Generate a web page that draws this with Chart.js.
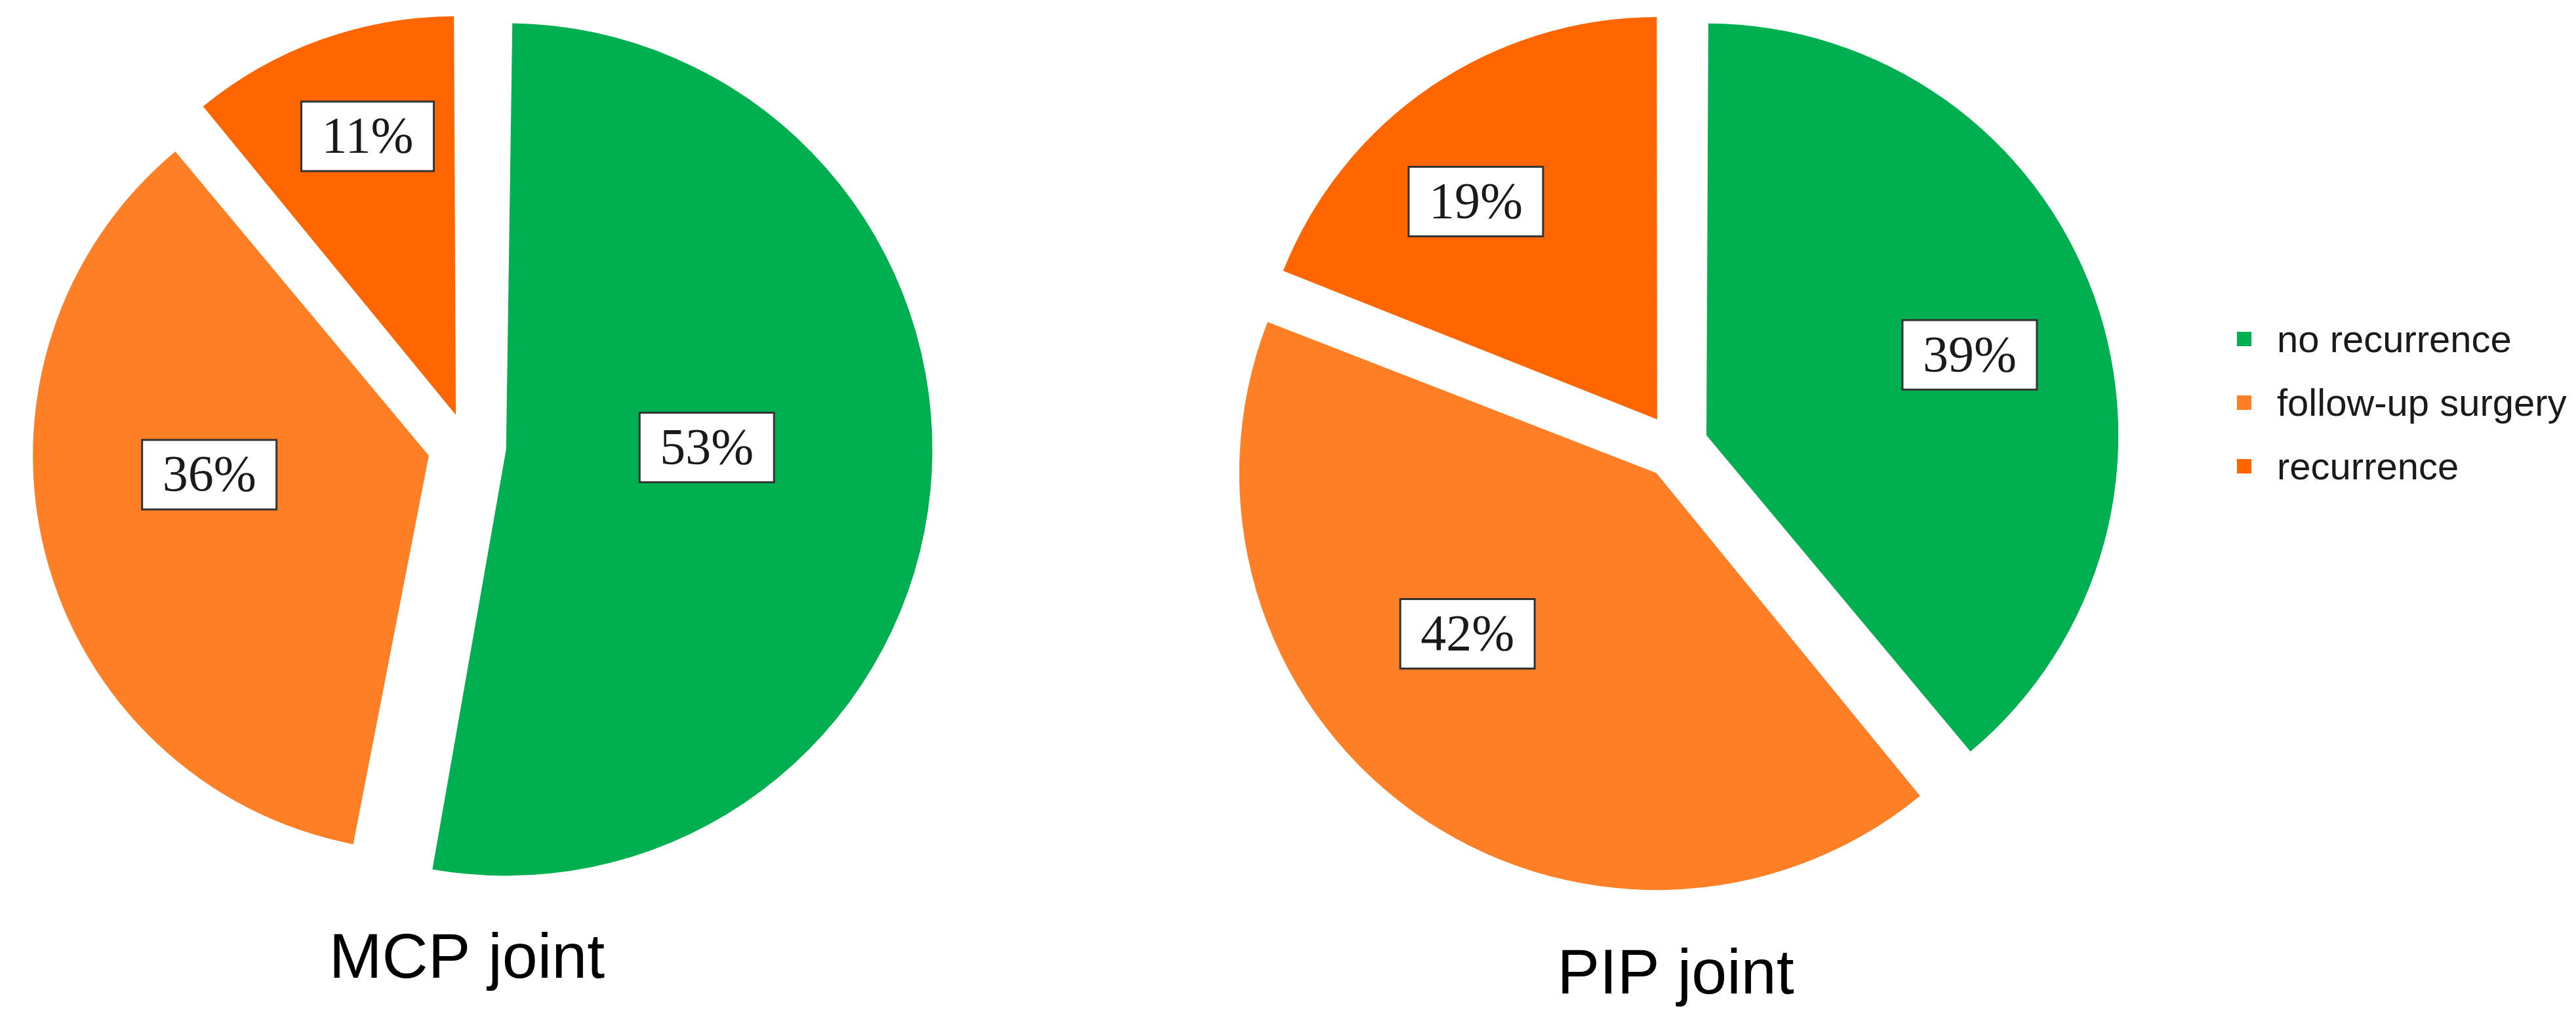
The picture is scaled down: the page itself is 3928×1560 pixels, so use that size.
<!DOCTYPE html>
<html>
<head>
<meta charset="utf-8">
<script src="https://cdn.jsdelivr.net/npm/chart.js@4.4.1/dist/chart.umd.min.js"></script>
<style>
  html, body { margin: 0; padding: 0; background: #fff; }
  #page { position: relative; width: 3928px; height: 1560px; overflow: hidden; background: #fff; }
  canvas { position: absolute; top: 0; }
  #mcp { left: -30px; }
  #pip { left: 1855px; }
  #legend {
    position: absolute; left: 3411px; top: 468px;
    font-family: "Liberation Sans", Arial, sans-serif; font-size: 58px; color: #1a1a1a;
  }
  .item { display: flex; align-items: center; height: 97px; white-space: nowrap; }
  .swatch { width: 22px; height: 22px; margin-right: 39px; }
</style>
</head>
<body>
<div id="page">
  <canvas id="mcp" width="1484" height="1560"></canvas>
  <canvas id="pip" width="1400" height="1560"></canvas>
  <div id="legend"></div>
</div>
<script>
// Data
const categories = ['no recurrence', 'follow-up surgery', 'recurrence'];
const mcpValues = [53, 36, 11];
const pipValues = [39, 42, 19];
const sliceColors = ['#00B050', '#FF7F27', '#FF6600'];

// White boxed percentage labels
const boxLabels = {
    id: 'boxLabels',
    afterDatasetsDraw(chart, args, opts) {
        const ctx = chart.ctx;
        const meta = chart.getDatasetMeta(0);
        const values = chart.data.datasets[0].data;
        ctx.save();
        ctx.font = '78px "Liberation Serif", "DejaVu Serif", serif';
        ctx.textAlign = 'center';
        ctx.textBaseline = 'middle';
        meta.data.forEach((arc, i) => {
            const p = arc.getProps(['x', 'y', 'startAngle', 'endAngle', 'outerRadius'], true);
            const mid = (p.startAngle + p.endAngle) / 2 + (opts.turn[i] || 0) * Math.PI / 180;
            const d = opts.dist[i] * p.outerRadius;
            const x = p.x + Math.cos(mid) * d;
            const y = p.y + Math.sin(mid) * d;
            const text = values[i] + '%';
            const w = ctx.measureText(text).width + 62;
            const h = 106;
            ctx.fillStyle = '#fff';
            ctx.fillRect(x - w / 2, y - h / 2, w, h);
            ctx.lineWidth = 3;
            ctx.strokeStyle = '#333';
            ctx.strokeRect(x - w / 2, y - h / 2, w, h);
            ctx.fillStyle = '#1a1a1a';
            ctx.fillText(text, x, y + 4);
        });
        ctx.restore();
    }
};

function makePie(id, values, title, offsets, radius, titlePad, labelPos) {
    return new Chart(document.getElementById(id), {
        type: 'pie',
        data: {
            labels: categories,
            datasets: [{
                data: values,
                backgroundColor: sliceColors,
                borderWidth: 0,
                offset: offsets,
                hoverOffset: 0
            }]
        },
        options: {
            responsive: false,
            animation: false,
            devicePixelRatio: 1,
            radius: radius,
            layout: { padding: 0 },
            events: [],
            plugins: {
                legend: { display: false },
                tooltip: { enabled: false },
                title: {
                    display: true,
                    text: title,
                    position: 'bottom',
                    color: '#000',
                    font: { family: '"Liberation Sans", Arial, sans-serif', size: 97, weight: 'normal' },
                    padding: titlePad
                },
                boxLabels: labelPos
            }
        },
        plugins: [boxLabels]
    });
}

makePie('mcp', mcpValues, 'MCP joint', [240, 240, 200], 590,
    { top: 46, bottom: 38 },
    { dist: [0.62, 0.67, 0.84], turn: [-5, 8, 2] });

makePie('pip', pipValues, 'PIP joint', [200, 200, 200], 610,
    { top: 68, bottom: 14 },
    { dist: [0.77, 0.70, 0.79], turn: [2.5, 12, -5] });

// Legend
const legend = document.getElementById('legend');
categories.forEach((name, i) => {
    const item = document.createElement('div');
    item.className = 'item';
    const sw = document.createElement('span');
    sw.className = 'swatch';
    sw.style.background = sliceColors[i];
    const label = document.createElement('span');
    label.textContent = name;
    item.appendChild(sw);
    item.appendChild(label);
    legend.appendChild(item);
});
</script>
</body>
</html>
